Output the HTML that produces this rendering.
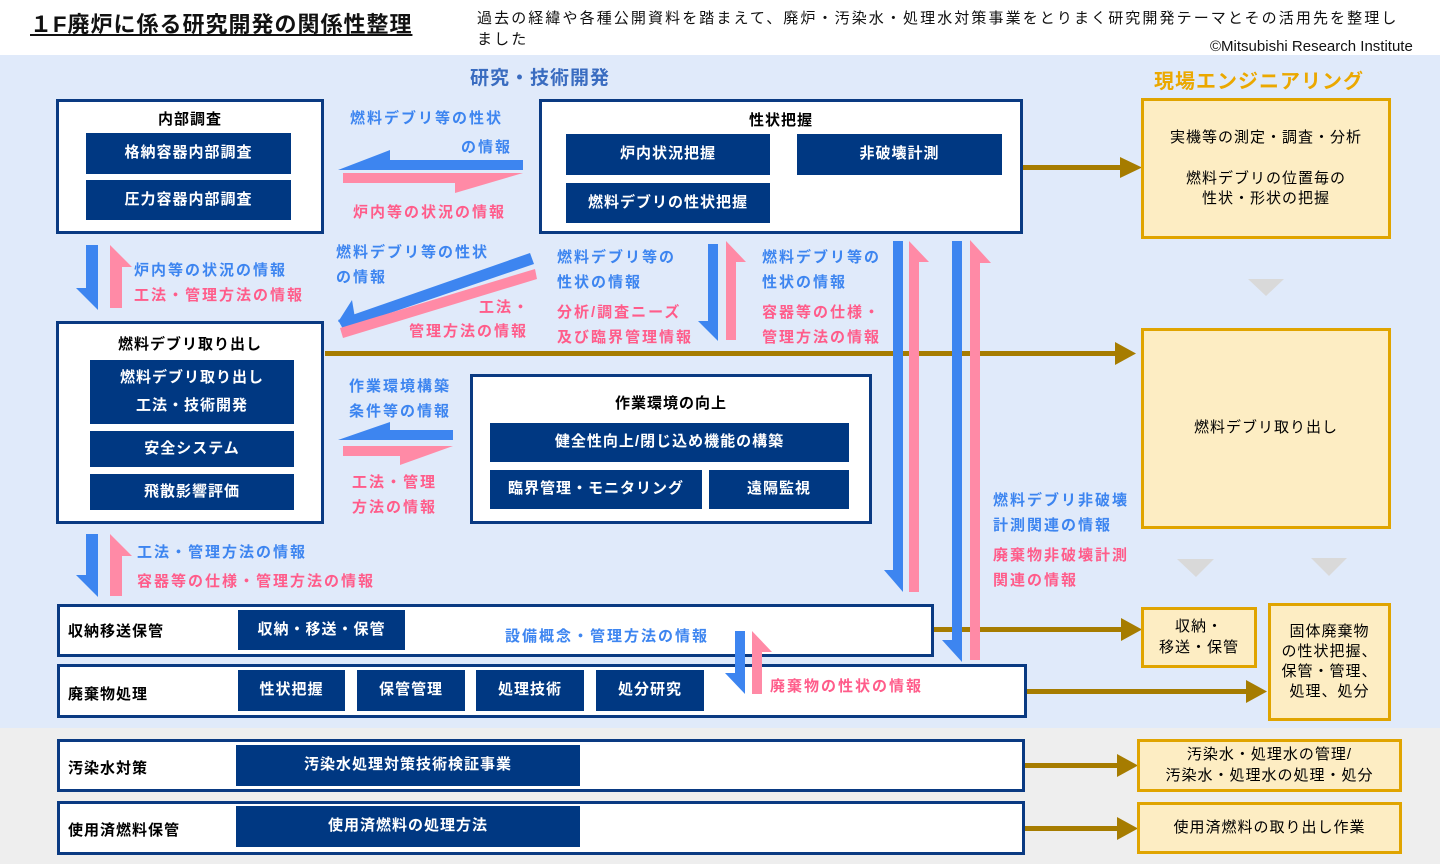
<!DOCTYPE html>
<html><head><meta charset="utf-8"><style>
*{margin:0;padding:0;box-sizing:border-box}
body{width:1440px;height:864px;position:relative;overflow:hidden;background:#fff;font-family:"Liberation Sans","Noto Sans CJK JP",sans-serif;}
.a{position:absolute;white-space:nowrap}
.box{position:absolute;background:#fff;border:3px solid #0a3a82}
.nv{position:absolute;background:#003882;color:#fff;font-weight:bold;font-size:15px;display:flex;align-items:center;justify-content:center;text-align:center;line-height:1.9;letter-spacing:1px}
.bt{position:absolute;font-weight:bold;font-size:15px;color:#000;letter-spacing:1px}
.bg{position:absolute;background:#fdedc3;border:3px solid #e0a400;display:flex;align-items:center;justify-content:center;text-align:center;font-size:15px;color:#000;line-height:1.35;letter-spacing:1px}
.b{color:#3d85f0;font-size:15px;letter-spacing:2px;font-weight:bold}
.p{color:#ff5c8a;font-size:15px;letter-spacing:2px;font-weight:bold}
</style></head><body>
<div class="a" style="left:0;top:55px;width:1440px;height:673px;background:#e0eafa"></div>
<div class="a" style="left:0;top:728px;width:1440px;height:136px;background:#eeeeee"></div>
<div class="a" style="left:30px;top:7px;font-size:22px;letter-spacing:1px;font-weight:bold;text-decoration:underline;color:#111">１F廃炉に係る研究開発の関係性整理</div>
<div class="a" style="left:477px;top:8px;font-size:15px;line-height:21px;color:#111;letter-spacing:2.1px">過去の経緯や各種公開資料を踏まえて、廃炉・汚染水・処理水対策事業をとりまく研究開発テーマとその活用先を整理し<br>ました</div>
<div class="a" style="left:1210px;top:38px;font-size:15px;color:#111">©Mitsubishi Research Institute</div>
<div class="a" style="left:470px;top:63px;font-size:19px;font-weight:bold;color:#3a6cc0;letter-spacing:1px">研究・技術開発</div>
<div class="a" style="left:1154px;top:65px;font-size:20px;font-weight:bold;color:#eba800;letter-spacing:1px">現場エンジニアリング</div>

<svg class="a" style="left:0;top:0" width="1440" height="864">
<g fill="#a67c00">
<rect x="1022" y="165" width="100" height="5"/><polygon points="1120,157 1142,167.5 1120,178"/>
<rect x="325" y="351" width="792" height="5"/><polygon points="1115,342 1136,353.5 1115,365"/>
<rect x="933" y="627" width="190" height="5"/><polygon points="1121,618 1142,629.5 1121,641"/>
<rect x="1026" y="689" width="222" height="5"/><polygon points="1246,680 1267,691.5 1246,703"/>
<rect x="1024" y="763" width="95" height="5"/><polygon points="1117,754 1138,765.5 1117,777"/>
<rect x="1024" y="826" width="95" height="5"/><polygon points="1117,817 1138,828.5 1117,840"/>
</g>
<g fill="#d9d9d9">
<polygon points="1248,279 1284,279 1266,296"/>
<polygon points="1177,559 1214,559 1196,577"/>
<polygon points="1311,558 1347,558 1329,576"/>
</g>
<g fill="#3d85f0">
<polygon points="523,160 390,160 390,150 338,170 523,170"/>
<polygon points="453,430 390,430 390,422 338,440 453,440"/>
<polygon points="530,253 534,264 343,329 338,320"/>
<polygon points="338,322 352,300 355,318"/>
</g>
<g fill="#ff8aa6">
<polygon points="343,173 523,173 455,193 455,183 343,183"/>
<polygon points="343,446 453,446 400,465 400,456 343,456"/>
<polygon points="340,328 535,269 537,279 343,338"/>
</g>
<g fill="#3d85f0">
<polygon points="708,244 718,244 718,341 698,321 708,321"/>
<polygon points="893,241 903,241 903,592 884,570 893,570"/>
<polygon points="952,241 962,241 962,662 942,640 952,640"/>
<polygon points="86,245 98,245 98,310 76,288 86,288"/>
<polygon points="86,534 98,534 98,597 76,575 86,575"/>
</g>
<g fill="#ff8aa6">
<polygon points="110,308 110,245 132,267 122,267 122,308"/>
<polygon points="110,596 110,534 132,556 122,556 122,596"/>
<polygon points="726,340 726,241 746,262 736,262 736,340"/>
<polygon points="909,592 909,241 929,262 919,262 919,592"/>
<polygon points="970,660 970,240 991,263 980,263 980,660"/>
</g>
</svg>

<div class="box" style="left:56px;top:99px;width:268px;height:135px"></div>
<div class="bt" style="left:56px;top:108px;width:268px;text-align:center">内部調査</div>
<div class="nv" style="left:86px;top:133px;width:205px;height:41px">格納容器内部調査</div>
<div class="nv" style="left:86px;top:180px;width:205px;height:40px">圧力容器内部調査</div>

<div class="box" style="left:539px;top:99px;width:484px;height:135px"></div>
<div class="bt" style="left:539px;top:109px;width:484px;text-align:center">性状把握</div>
<div class="nv" style="left:566px;top:134px;width:204px;height:41px">炉内状況把握</div>
<div class="nv" style="left:797px;top:134px;width:205px;height:41px">非破壊計測</div>
<div class="nv" style="left:566px;top:183px;width:204px;height:40px">燃料デブリの性状把握</div>

<div class="box" style="left:56px;top:321px;width:268px;height:203px"></div>
<div class="bt" style="left:56px;top:333px;width:268px;text-align:center">燃料デブリ取り出し</div>
<div class="nv" style="left:90px;top:360px;width:204px;height:64px">燃料デブリ取り出し<br>工法・技術開発</div>
<div class="nv" style="left:90px;top:431px;width:204px;height:36px">安全システム</div>
<div class="nv" style="left:90px;top:474px;width:204px;height:36px">飛散影響評価</div>

<div class="box" style="left:470px;top:374px;width:402px;height:150px"></div>
<div class="bt" style="left:470px;top:392px;width:402px;text-align:center">作業環境の向上</div>
<div class="nv" style="left:490px;top:423px;width:359px;height:39px">健全性向上/閉じ込め機能の構築</div>
<div class="nv" style="left:490px;top:470px;width:212px;height:39px">臨界管理・モニタリング</div>
<div class="nv" style="left:709px;top:470px;width:140px;height:39px">遠隔監視</div>

<div class="box" style="left:57px;top:604px;width:877px;height:53px"></div>
<div class="bt" style="left:68px;top:620px">収納移送保管</div>
<div class="nv" style="left:238px;top:610px;width:167px;height:40px">収納・移送・保管</div>

<div class="box" style="left:57px;top:664px;width:970px;height:54px"></div>
<div class="bt" style="left:68px;top:683px">廃棄物処理</div>
<div class="nv" style="left:238px;top:670px;width:107px;height:41px">性状把握</div>
<div class="nv" style="left:357px;top:670px;width:108px;height:41px">保管管理</div>
<div class="nv" style="left:476px;top:670px;width:108px;height:41px">処理技術</div>
<div class="nv" style="left:596px;top:670px;width:108px;height:41px">処分研究</div>

<div class="box" style="left:57px;top:739px;width:968px;height:53px"></div>
<div class="bt" style="left:68px;top:757px">汚染水対策</div>
<div class="nv" style="left:236px;top:745px;width:344px;height:41px">汚染水処理対策技術検証事業</div>

<div class="box" style="left:57px;top:801px;width:968px;height:54px"></div>
<div class="bt" style="left:68px;top:819px">使用済燃料保管</div>
<div class="nv" style="left:236px;top:806px;width:344px;height:41px">使用済燃料の処理方法</div>

<svg class="a" style="left:0;top:0" width="1440" height="864">
<polygon fill="#3d85f0" points="735,631 745,631 745,694 725,673 735,673"/>
<polygon fill="#ff8aa6" points="752,694 752,631 772,652 762,652 762,694"/>
</svg>

<div class="bg" style="left:1141px;top:98px;width:250px;height:141px">実機等の測定・調査・分析<br><br>燃料デブリの位置毎の<br>性状・形状の把握</div>
<div class="bg" style="left:1141px;top:328px;width:250px;height:201px">燃料デブリ取り出し</div>
<div class="bg" style="left:1141px;top:607px;width:116px;height:61px">収納・<br>移送・保管</div>
<div class="bg" style="left:1268px;top:603px;width:123px;height:118px">固体廃棄物<br>の性状把握、<br>保管・管理、<br>処理、処分</div>
<div class="bg" style="left:1137px;top:739px;width:265px;height:53px">汚染水・処理水の管理/<br>汚染水・処理水の処理・処分</div>
<div class="bg" style="left:1137px;top:802px;width:265px;height:52px">使用済燃料の取り出し作業</div>

<div class="a b" style="left:350px;top:107px">燃料デブリ等の性状</div>
<div class="a b" style="left:461px;top:136px">の情報</div>
<div class="a p" style="left:353px;top:201px">炉内等の状況の情報</div>
<div class="a b" style="left:134px;top:259px">炉内等の状況の情報</div>
<div class="a p" style="left:134px;top:284px">工法・管理方法の情報</div>
<div class="a b" style="left:336px;top:241px">燃料デブリ等の性状</div>
<div class="a b" style="left:336px;top:266px">の情報</div>
<div class="a p" style="left:479px;top:296px">工法・</div>
<div class="a p" style="left:409px;top:320px">管理方法の情報</div>
<div class="a b" style="left:557px;top:246px">燃料デブリ等の</div>
<div class="a b" style="left:557px;top:271px">性状の情報</div>
<div class="a p" style="left:557px;top:301px">分析/調査ニーズ</div>
<div class="a p" style="left:557px;top:326px">及び臨界管理情報</div>
<div class="a b" style="left:762px;top:246px">燃料デブリ等の</div>
<div class="a b" style="left:762px;top:271px">性状の情報</div>
<div class="a p" style="left:762px;top:301px">容器等の仕様・</div>
<div class="a p" style="left:762px;top:326px">管理方法の情報</div>
<div class="a b" style="left:349px;top:375px">作業環境構築</div>
<div class="a b" style="left:349px;top:400px">条件等の情報</div>
<div class="a p" style="left:352px;top:471px">工法・管理</div>
<div class="a p" style="left:352px;top:496px">方法の情報</div>
<div class="a b" style="left:993px;top:489px">燃料デブリ非破壊</div>
<div class="a b" style="left:993px;top:514px">計測関連の情報</div>
<div class="a p" style="left:993px;top:544px">廃棄物非破壊計測</div>
<div class="a p" style="left:993px;top:569px">関連の情報</div>
<div class="a b" style="left:137px;top:541px">工法・管理方法の情報</div>
<div class="a p" style="left:137px;top:570px">容器等の仕様・管理方法の情報</div>
<div class="a b" style="left:505px;top:625px">設備概念・管理方法の情報</div>
<div class="a p" style="left:770px;top:675px">廃棄物の性状の情報</div>
</body></html>
